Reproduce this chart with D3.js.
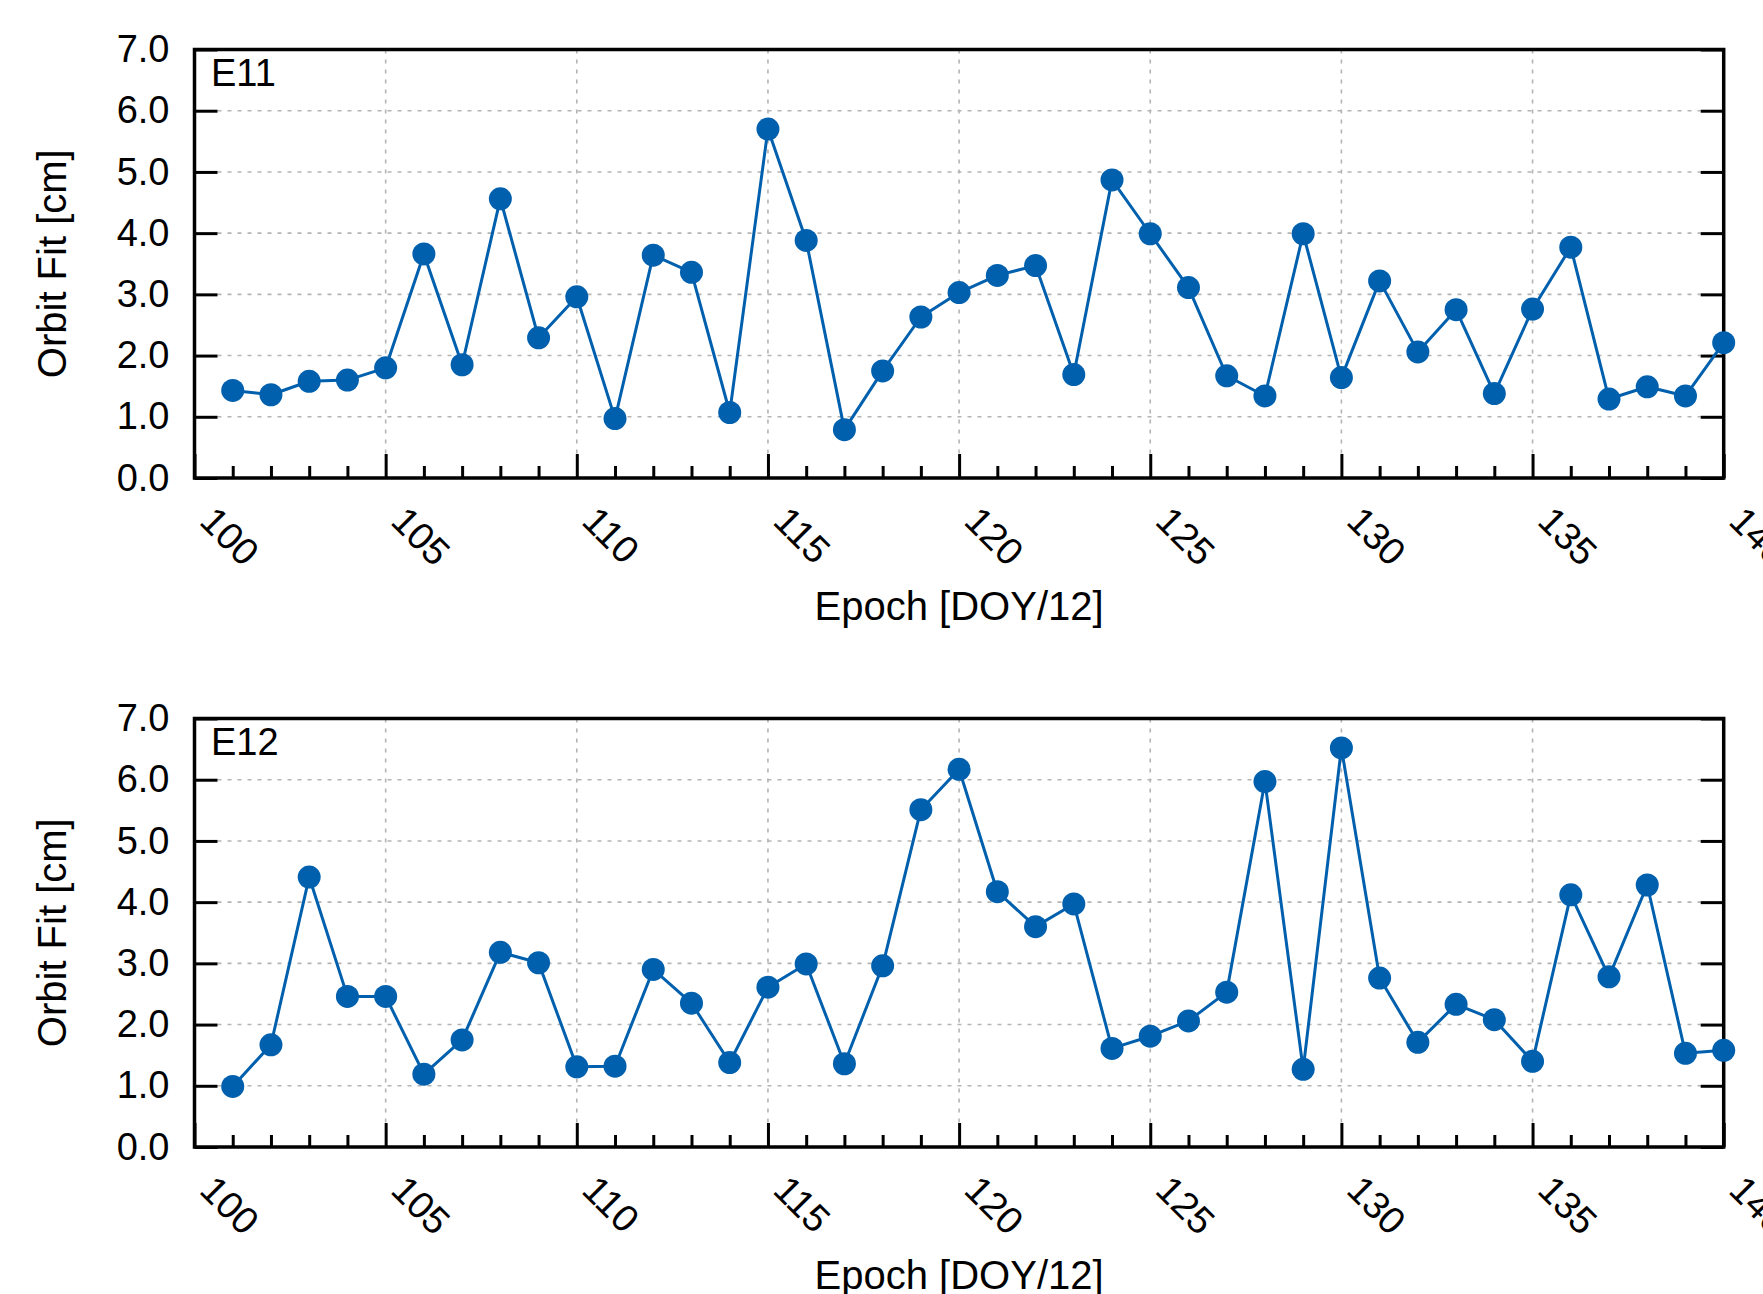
<!DOCTYPE html>
<html>
<head>
<meta charset="utf-8">
<script src="https://cdn.jsdelivr.net/npm/d3@7"></script>
<style>
  html, body { margin: 0; padding: 0; background: #fff; }
  svg { display: block; }
  text { font-family: "Liberation Sans", Arial, Helvetica, sans-serif; fill: #000; }
</style>
</head>
<body>
<svg id="chart" width="1763" height="1294"></svg>
<script>
const epochs = [101,102,103,104,105,106,107,108,109,110,111,112,113,114,115,116,117,118,119,120,
                121,122,123,124,125,126,127,128,129,130,131,132,133,134,135,136,137,138,139,140];
const e11 = [1.43,1.36,1.58,1.60,1.80,3.66,1.85,4.56,2.29,2.96,0.97,3.64,3.36,1.07,5.70,3.88,0.79,1.75,2.63,3.03,
             3.31,3.47,1.69,4.87,3.99,3.11,1.67,1.34,3.99,1.64,3.22,2.06,2.75,1.38,2.76,3.77,1.29,1.49,1.34,2.21];
const e12 = [0.99,1.67,4.41,2.46,2.46,1.19,1.75,3.18,3.01,1.31,1.32,2.90,2.35,1.38,2.61,2.99,1.36,2.96,5.51,6.17,
             4.17,3.60,3.97,1.61,1.81,2.06,2.53,5.97,1.27,6.52,2.76,1.71,2.33,2.08,1.40,4.12,2.78,4.28,1.53,1.58];
const yTicks = [0,1,2,3,4,5,6,7];
const xMajorTicks = [100,105,110,115,120,125,130,135,140];
const xMinorTicks = d3.range(100, 141).filter(v => v % 5 !== 0);
const panelNames = ["E11", "E12"];
const yLabel = "Orbit Fit [cm]";
const xLabel = "Epoch [DOY/12]";

const svg = d3.select("#chart");
const left = 194.5, right = 1723.7;
const panels = [
  {name: panelNames[0], data: e11, top: 49.5, bottom: 478},
  {name: panelNames[1], data: e12, top: 718.5, bottom: 1147}
];
const color = "#0060ad";

const x = d3.scaleLinear().domain([100, 140]).range([left, right]);

panels.forEach(p => {
  const y = d3.scaleLinear().domain([0, 7]).range([p.bottom, p.top]);
  const g = svg.append("g");

  // grid
  const grid = g.append("g").attr("stroke", "#b4b4b4").attr("stroke-width", 1.6)
    .attr("stroke-dasharray", "4,6");
  grid.selectAll("line.gx").data(xMajorTicks.slice(1, -1)).join("line")
    .attr("x1", d => x(d)).attr("x2", d => x(d))
    .attr("y1", p.top).attr("y2", p.bottom - 24);
  grid.selectAll("line.gy").data(yTicks.slice(1, -1)).join("line")
    .attr("x1", left + 23).attr("x2", right - 23)
    .attr("y1", d => y(d)).attr("y2", d => y(d));

  // left axis
  const ax = g.append("g").attr("transform", `translate(${left},0)`)
    .call(d3.axisLeft(y).tickValues(yTicks).tickSize(-23).tickPadding(25).tickFormat(d3.format(".1f")));
  ax.select(".domain").remove();
  ax.selectAll("line").attr("stroke", "#000").attr("stroke-width", 3);
  ax.selectAll("text").attr("font-size", 38).attr("font-family", "Liberation Sans, Arial, sans-serif");

  // right axis ticks
  const ar = g.append("g").attr("transform", `translate(${right},0)`)
    .call(d3.axisRight(y).tickValues(yTicks).tickSize(-23).tickFormat(""));
  ar.select(".domain").remove();
  ar.selectAll("line").attr("stroke", "#000").attr("stroke-width", 3);

  // bottom major
  const ab = g.append("g").attr("transform", `translate(0,${p.bottom})`)
    .call(d3.axisBottom(x).tickValues(xMajorTicks).tickSize(-24).tickFormat(d3.format("d")));
  ab.select(".domain").remove();
  ab.selectAll("line").attr("stroke", "#000").attr("stroke-width", 3);
  ab.selectAll("text")
    .attr("font-size", 38).attr("font-family", "Liberation Sans, Arial, sans-serif")
    .attr("text-anchor", "start")
    .attr("x", 3).attr("y", 45).attr("dy", 0)
    .attr("transform", "rotate(45,3,45)");

  // bottom minor
  const am = g.append("g").attr("transform", `translate(0,${p.bottom})`)
    .call(d3.axisBottom(x).tickValues(xMinorTicks).tickSize(-12).tickFormat(""));
  am.select(".domain").remove();
  am.selectAll("line").attr("stroke", "#000").attr("stroke-width", 3);

  // frame
  g.append("rect").attr("x", left).attr("y", p.top)
    .attr("width", right - left).attr("height", p.bottom - p.top)
    .attr("fill", "none").attr("stroke", "#000").attr("stroke-width", 3.5);

  // panel label
  g.append("text").attr("x", 211).attr("y", p.top + 36)
    .attr("font-size", 38).text(p.name);

  // axis labels
  g.append("text").attr("transform", `translate(66,${(p.top + p.bottom) / 2}) rotate(-90)`)
    .attr("text-anchor", "middle").attr("font-size", 40).text(yLabel);
  g.append("text").attr("x", (left + right) / 2).attr("y", p.bottom + 142)
    .attr("text-anchor", "middle").attr("font-size", 40).text(xLabel);

  // data
  const pts = epochs.map((e, i) => [e, p.data[i]]);
  g.append("path").datum(pts)
    .attr("fill", "none").attr("stroke", color).attr("stroke-width", 3)
    .attr("stroke-linejoin", "round")
    .attr("d", d3.line().x(d => x(d[0])).y(d => y(d[1])));
  g.selectAll("circle.pt").data(pts).join("circle")
    .attr("cx", d => x(d[0])).attr("cy", d => y(d[1])).attr("r", 11.5)
    .attr("fill", color);
});
</script>
</body>
</html>
